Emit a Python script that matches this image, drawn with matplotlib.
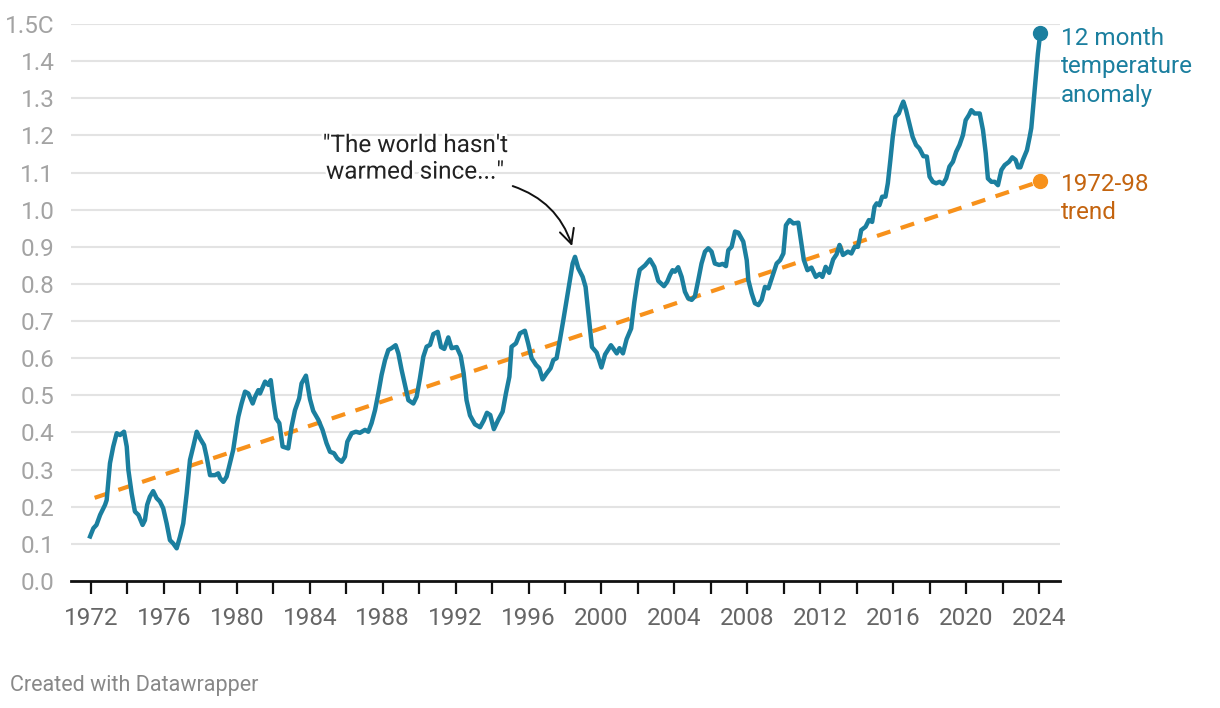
import numpy as np
import matplotlib
matplotlib.use('Agg')
import matplotlib.pyplot as plt
import matplotlib.patheffects as pe

plt.rcParams['font.family'] = ['Roboto', 'DejaVu Sans']

# 12 month temperature anomaly (decimal year, deg C)
years = [1971.95, 1972.13, 1972.30, 1972.50, 1972.77, 1972.86, 1973.04, 1973.22, 1973.41, 1973.59,
         1973.81, 1973.96, 1974.05, 1974.23, 1974.41, 1974.60, 1974.83, 1974.96, 1975.08, 1975.23,
         1975.41, 1975.60, 1975.78, 1975.96, 1976.15, 1976.33, 1976.51, 1976.70, 1976.88, 1977.06,
         1977.25, 1977.43, 1977.61, 1977.80, 1977.98, 1978.20, 1978.34, 1978.53, 1978.80, 1978.98,
         1979.08, 1979.26, 1979.44, 1979.62, 1979.80, 1979.99, 1980.08, 1980.26, 1980.45, 1980.63,
         1980.87, 1981.00, 1981.18, 1981.27, 1981.55, 1981.73, 1981.86, 1982.00, 1982.15, 1982.33,
         1982.51, 1982.82, 1983.00, 1983.19, 1983.42, 1983.55, 1983.79, 1984.01, 1984.19, 1984.47,
         1984.70, 1984.92, 1985.11, 1985.33, 1985.51, 1985.75, 1985.93, 1986.06, 1986.30, 1986.53,
         1986.75, 1987.03, 1987.21, 1987.39, 1987.58, 1987.76, 1987.94, 1988.13, 1988.31, 1988.49,
         1988.71, 1988.86, 1989.04, 1989.22, 1989.41, 1989.68, 1989.86, 1990.04, 1990.23, 1990.41,
         1990.60, 1990.78, 1991.02, 1991.20, 1991.38, 1991.60, 1991.78, 1992.06, 1992.28, 1992.44,
         1992.60, 1992.79, 1993.06, 1993.34, 1993.54, 1993.72, 1993.90, 1994.10, 1994.34, 1994.58,
         1994.76, 1994.95, 1995.07, 1995.31, 1995.53, 1995.80, 1995.98, 1996.17, 1996.41, 1996.59,
         1996.77, 1996.99, 1997.21, 1997.36, 1997.54, 1997.72, 1997.91, 1998.09, 1998.27, 1998.42,
         1998.55, 1998.73, 1998.97, 1999.13, 1999.31, 1999.48, 1999.74, 2000.00, 2000.20, 2000.52,
         2000.84, 2000.99, 2001.18, 2001.38, 2001.63, 2001.80, 2001.98, 2002.10, 2002.39, 2002.66,
         2002.90, 2003.12, 2003.43, 2003.61, 2003.76, 2003.90, 2004.03, 2004.21, 2004.40, 2004.58,
         2004.76, 2004.95, 2005.13, 2005.31, 2005.49, 2005.68, 2005.86, 2006.04, 2006.22, 2006.46,
         2006.65, 2006.83, 2006.96, 2007.14, 2007.33, 2007.51, 2007.78, 2007.97, 2008.06, 2008.24,
         2008.42, 2008.61, 2008.79, 2008.97, 2009.16, 2009.34, 2009.61, 2009.80, 2009.98, 2010.12,
         2010.32, 2010.53, 2010.80, 2010.95, 2011.10, 2011.30, 2011.52, 2011.76, 2011.97, 2012.12,
         2012.30, 2012.49, 2012.71, 2012.90, 2013.06, 2013.25, 2013.52, 2013.71, 2013.89, 2014.07,
         2014.25, 2014.49, 2014.67, 2014.85, 2014.98, 2015.10, 2015.25, 2015.40, 2015.58, 2015.71,
         2015.85, 2015.98, 2016.13, 2016.31, 2016.44, 2016.56, 2016.71, 2016.89, 2017.07, 2017.26,
         2017.44, 2017.66, 2017.85, 2018.00, 2018.18, 2018.36, 2018.55, 2018.73, 2018.91, 2019.09,
         2019.28, 2019.46, 2019.64, 2019.83, 2019.98, 2020.16, 2020.29, 2020.47, 2020.75, 2020.93,
         2021.08, 2021.20, 2021.39, 2021.57, 2021.75, 2021.94, 2022.12, 2022.36, 2022.54, 2022.72,
         2022.85, 2022.98, 2023.12, 2023.34, 2023.49, 2023.58, 2023.67, 2023.76, 2023.85, 2023.94,
         2024.07]
anomaly = [0.120, 0.142, 0.151, 0.178, 0.205, 0.218, 0.317, 0.362, 0.398, 0.393,
           0.402, 0.362, 0.299, 0.236, 0.187, 0.178, 0.151, 0.164, 0.205, 0.227,
           0.242, 0.223, 0.214, 0.196, 0.155, 0.110, 0.101, 0.088, 0.119, 0.155,
           0.236, 0.326, 0.362, 0.402, 0.384, 0.366, 0.335, 0.285, 0.285, 0.290,
           0.277, 0.267, 0.281, 0.317, 0.353, 0.415, 0.442, 0.478, 0.510, 0.505,
           0.478, 0.496, 0.514, 0.505, 0.537, 0.528, 0.541, 0.487, 0.438, 0.425,
           0.362, 0.357, 0.415, 0.460, 0.492, 0.532, 0.553, 0.490, 0.458, 0.434,
           0.407, 0.371, 0.348, 0.344, 0.330, 0.321, 0.335, 0.375, 0.398, 0.402,
           0.399, 0.407, 0.402, 0.425, 0.460, 0.505, 0.555, 0.595, 0.622, 0.627,
           0.635, 0.613, 0.568, 0.528, 0.487, 0.478, 0.496, 0.545, 0.604, 0.631,
           0.636, 0.665, 0.671, 0.630, 0.625, 0.656, 0.627, 0.630, 0.606, 0.560,
           0.487, 0.446, 0.422, 0.414, 0.432, 0.453, 0.447, 0.409, 0.434, 0.456,
           0.505, 0.550, 0.631, 0.640, 0.667, 0.674, 0.640, 0.600, 0.582, 0.573,
           0.543, 0.559, 0.573, 0.595, 0.600, 0.649, 0.703, 0.757, 0.810, 0.855,
           0.873, 0.842, 0.819, 0.792, 0.710, 0.630, 0.615, 0.575, 0.610, 0.635,
           0.613, 0.627, 0.613, 0.651, 0.680, 0.750, 0.810, 0.838, 0.850, 0.866,
           0.846, 0.808, 0.794, 0.806, 0.824, 0.837, 0.833, 0.845, 0.819, 0.779,
           0.761, 0.757, 0.767, 0.810, 0.855, 0.887, 0.896, 0.887, 0.855, 0.851,
           0.854, 0.848, 0.891, 0.900, 0.941, 0.938, 0.914, 0.864, 0.810, 0.775,
           0.748, 0.743, 0.757, 0.792, 0.788, 0.815, 0.855, 0.864, 0.882, 0.958,
           0.972, 0.963, 0.965, 0.915, 0.865, 0.837, 0.844, 0.819, 0.827, 0.819,
           0.846, 0.830, 0.866, 0.880, 0.905, 0.878, 0.887, 0.882, 0.900, 0.900,
           0.945, 0.954, 0.972, 0.967, 1.008, 1.017, 1.012, 1.035, 1.035, 1.071,
           1.134, 1.196, 1.250, 1.259, 1.277, 1.291, 1.268, 1.232, 1.196, 1.174,
           1.165, 1.144, 1.143, 1.089, 1.075, 1.071, 1.075, 1.069, 1.084, 1.116,
           1.129, 1.156, 1.174, 1.201, 1.241, 1.255, 1.268, 1.259, 1.259, 1.214,
           1.152, 1.084, 1.075, 1.075, 1.066, 1.107, 1.120, 1.129, 1.141, 1.134,
           1.114, 1.114, 1.134, 1.160, 1.196, 1.220, 1.270, 1.320, 1.370, 1.420,
           1.475]

# 1972-98 linear trend, extended to 2024
trend_years = [1972.2, 2024.05]
trend_vals = [0.224, 1.076]

yticks = [0.0, 0.1, 0.2, 0.3, 0.4, 0.5, 0.6, 0.7, 0.8, 0.9, 1.0, 1.1, 1.2, 1.3, 1.4, 1.5]
ytick_labels = ['0.0', '0.1', '0.2', '0.3', '0.4', '0.5', '0.6', '0.7', '0.8', '0.9',
                '1.0', '1.1', '1.2', '1.3', '1.4', '1.5C']
xtick_major = list(range(1972, 2025, 4))
xtick_minor = list(range(1972, 2025, 2))

BLUE = '#1b7f9f'
ORANGE = '#f7911b'
ORANGE_TXT = '#c4640f'

W, H = 1220, 708
fig = plt.figure(figsize=(W / 100, H / 100), dpi=100)
ax = fig.add_axes([71 / W, (H - 581) / H, (1060 - 71) / W, (581 - 24) / H])

ax.set_xlim(1972 - 20 / 18.23, 1972 + (1060 - 91) / 18.23)
ax.set_ylim(0, 1.5)

for v in yticks[1:]:
    ax.axhline(v, color='#e3e3e3', lw=1.5, zorder=0)

ax.plot(trend_years, trend_vals, color=ORANGE, lw=3, dashes=(3.4, 2.6),
        zorder=2, solid_capstyle='butt')
ax.plot(years, anomaly, color=BLUE, lw=3.2, zorder=3, solid_joinstyle='round')
ax.plot(years[-1], anomaly[-1], 'o', color=BLUE, ms=10, zorder=4, clip_on=False)
ax.plot(trend_years[-1], trend_vals[-1], 'o', color=ORANGE, ms=10, zorder=4, clip_on=False)

for s in ['top', 'right', 'left']:
    ax.spines[s].set_visible(False)
ax.spines['bottom'].set_linewidth(2)
ax.spines['bottom'].set_color('#111111')

ax.set_yticks(yticks)
ax.set_yticklabels(ytick_labels)
ax.tick_params(axis='y', length=0, pad=12, labelsize=17.5, labelcolor='#a3a3a3')

ax.set_xticks(xtick_major)
ax.set_xticklabels([str(y) for y in xtick_major])
ax.set_xticks(xtick_minor, minor=True)
ax.tick_params(axis='x', which='both', direction='out', length=9, width=1.6,
               color='#111111', labelsize=17.5, labelcolor='#666666', pad=10)

halo = [pe.withStroke(linewidth=4, foreground='white')]

ax.text(2025.2, 1.385, '12 month\ntemperature\nanomaly', color=BLUE, fontsize=17.5,
        ha='left', va='center', linespacing=1.3, clip_on=False)
ax.text(2025.2, 1.03, '1972-98\ntrend', color=ORANGE_TXT, fontsize=17.5,
        ha='left', va='center', linespacing=1.3, clip_on=False)

ax.annotate('"The world hasn\'t\nwarmed since..."', xy=(1998.39, 0.902), xytext=(1989.77, 1.137),
            ha='center', va='center', fontsize=17.5, color='#222222', linespacing=1.2,
            path_effects=halo,
            arrowprops=dict(arrowstyle='->,head_length=0.6,head_width=0.3', color='#111111', lw=1.4,
                            connectionstyle='arc3,rad=-0.25',
                            shrinkA=0, shrinkB=0, relpos=(1.03, -0.05)))

fig.text(10 / W, 1 - 685 / H, 'Created with Datawrapper', fontsize=15.5, color='#888888',
         ha='left', va='center')

fig.savefig('out.png', dpi=100)
